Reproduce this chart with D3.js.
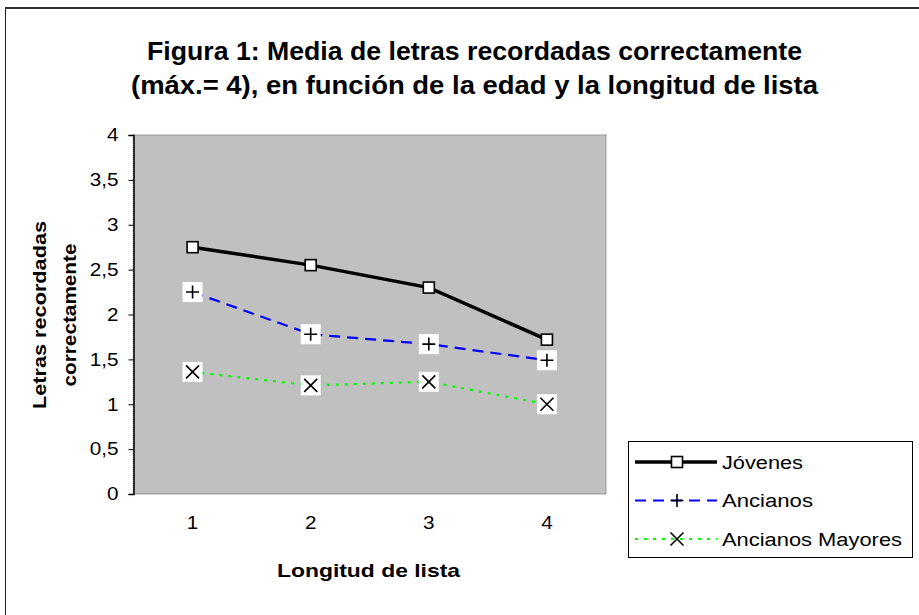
<!DOCTYPE html>
<html><head><meta charset="utf-8">
<script src="https://cdn.jsdelivr.net/npm/d3@7"></script>
<style>body{margin:0;background:#fff}svg{display:block}text{font-family:"Liberation Sans",Arial,sans-serif}</style>
</head><body>
<svg id="c" width="919" height="615"></svg>
<script>
const categories = ["1", "2", "3", "4"];
const jovenes = [2.75, 2.55, 2.30, 1.72];
const ancianos = [2.25, 1.78, 1.67, 1.49];
const mayores = [1.36, 1.21, 1.25, 1.00];
const seriesNames = ["Jóvenes", "Ancianos", "Ancianos Mayores"];
const yTicks = [0, 0.5, 1, 1.5, 2, 2.5, 3, 3.5, 4];
const titleLines = ["Figura 1: Media de letras recordadas correctamente", "(máx.= 4), en función de la edad y la longitud de lista"];
const yTitleLines = ["Letras recordadas", "correctamente"];
const xTitle = "Longitud de lista";

const FF = "'Liberation Sans',Arial,sans-serif";
const svg = d3.select("#c");
// outer frame
svg.append("line").attr("x1",5.5).attr("y1",8).attr("x2",5.5).attr("y2",615).attr("stroke","#222").attr("stroke-width",1);
svg.append("line").attr("x1",5).attr("y1",8).attr("x2",919).attr("y2",8).attr("stroke","#333").attr("stroke-width",2);

const L=133.5, R=606, T=135, B=494;
const x = d3.scaleBand().domain(categories).range([L,R]).paddingInner(0).paddingOuter(0);
const y = d3.scaleLinear().domain([0,4]).range([B,T]);
const cx = c => x(c)+x.bandwidth()/2;

// plot area
svg.append("rect").attr("x",L).attr("y",T).attr("width",R-L).attr("height",B-T)
  .attr("fill","#C0C0C0").attr("stroke","#808080").attr("stroke-width",1.5).attr("stroke-dasharray","1,1");

// y axis
const yAxis = d3.axisLeft(y).tickValues(yTicks).tickSize(5).tickPadding(6)
  .tickFormat(d => String(d).replace(".", ","));
const ga = svg.append("g").attr("transform",`translate(${L},0)`).call(yAxis);
ga.select(".domain").attr("stroke","#000").attr("stroke-width",1.5);
ga.selectAll(".tick line").attr("stroke","#000");
ga.selectAll("text").attr("font-size",18).attr("fill","#000").attr("font-family",FF)
  .attr("x",0).attr("transform","translate(-15,0) scale(1.15,1)");

// x axis
const xAxis = d3.axisBottom(x).tickSize(0).tickPadding(22);
const gx = svg.append("g").attr("transform",`translate(0,${B})`).call(xAxis);
gx.select(".domain").remove();
gx.selectAll("text").attr("font-size",18).attr("fill","#000").attr("font-family",FF)
  .attr("transform","scale(1.15,1)").attr("x",0);
gx.selectAll(".tick").attr("transform", d => `translate(${cx(d)},0)`);

// titles
const t = svg.append("text").attr("text-anchor","middle").attr("font-weight","bold").attr("font-size",26);
t.append("tspan").attr("x",474.5).attr("y",60).attr("textLength",655).attr("lengthAdjust","spacingAndGlyphs").text(titleLines[0]);
t.append("tspan").attr("x",474.5).attr("y",94).attr("textLength",687).attr("lengthAdjust","spacingAndGlyphs").text(titleLines[1]);

svg.append("text").attr("x",368.5).attr("y",577).attr("text-anchor","middle").attr("font-weight","bold").attr("font-size",19)
  .attr("textLength",183).attr("lengthAdjust","spacingAndGlyphs").text(xTitle);
const yt = svg.append("text").attr("transform","translate(46,315) rotate(-90)").attr("text-anchor","middle").attr("font-weight","bold").attr("font-size",19);
yt.append("tspan").attr("x",0).attr("y",0).attr("textLength",188).attr("lengthAdjust","spacingAndGlyphs").text(yTitleLines[0]);
yt.append("tspan").attr("x",0).attr("y",30).attr("textLength",143).attr("lengthAdjust","spacingAndGlyphs").text(yTitleLines[1]);

const line = d3.line().x((d,i)=>cx(categories[i])).y(d=>y(d));
const styles = [
  {data:jovenes, color:"#000", w:3.5, dash:null, marker:"square"},
  {data:ancianos, color:"#0000FF", w:2.2, dash:"11,7", marker:"plus"},
  {data:mayores, color:"#00FF00", w:2.2, dash:"3,6", marker:"cross"}
];

function drawMarker(g, type, px, py, box) {
  if (type==="square") {
    g.append("rect").attr("x",px-5.5).attr("y",py-5.5).attr("width",11).attr("height",11)
      .attr("fill","#fff").attr("stroke","#000").attr("stroke-width",1.6);
  } else {
    if (box) g.append("rect").attr("x",px-10).attr("y",py-10).attr("width",20).attr("height",20).attr("fill","#fff");
    const s = 6.5;
    const p = type==="plus"
      ? `M${px-s},${py}H${px+s}M${px},${py-s}V${py+s}`
      : `M${px-s},${py-s}L${px+s},${py+s}M${px+s},${py-s}L${px-s},${py+s}`;
    g.append("path").attr("d",p).attr("stroke","#000").attr("stroke-width",1.6).attr("fill","none");
  }
}

const gl = svg.append("g");
styles.forEach(s => {
  gl.append("path").datum(s.data).attr("d",line).attr("fill","none").attr("stroke",s.color)
    .attr("stroke-width",s.w).attr("stroke-dasharray",s.dash);
});
styles.forEach(s => {
  s.data.forEach((v,i)=> drawMarker(gl, s.marker, cx(categories[i]), y(v), true));
});

// legend
const lg = svg.append("g");
lg.append("rect").attr("x",628.5).attr("y",441.5).attr("width",284).attr("height",116).attr("fill","#fff").attr("stroke","#000").attr("stroke-width",1);
const ly = [462, 500.5, 539];
const lw = [81, 91, 180];
styles.forEach((s,i)=>{
  lg.append("line").attr("x1",635).attr("x2",717).attr("y1",ly[i]).attr("y2",ly[i]).attr("stroke",s.color)
    .attr("stroke-width",s.w).attr("stroke-dasharray",s.dash);
  drawMarker(lg, s.marker, 677, ly[i], false);
  lg.append("text").attr("x",722).attr("y",ly[i]+6.5).attr("font-size",18)
    .attr("textLength",lw[i]).attr("lengthAdjust","spacingAndGlyphs").text(seriesNames[i]);
});
</script>
</body></html>
